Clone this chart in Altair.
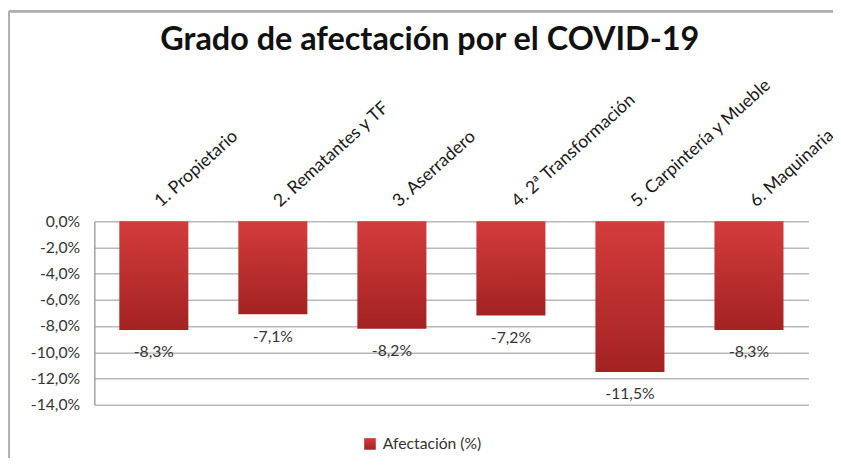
import altair as alt
import pandas as pd

categories = ["1. Propietario", "2. Rematantes y TF", "3. Aserradero",
              "4. 2ª Transformación", "5. Carpintería y Mueble", "6. Maquinaria"]
values = [-8.3, -7.1, -8.2, -7.2, -11.5, -8.3]
series_name = "Afectación (%)"
y_ticks = [0, -2, -4, -6, -8, -10, -12, -14]

df = pd.DataFrame({"cat": categories, "val": values, "serie": series_name})
df["lab"] = [f"{v:.1f}%".replace(".", ",") for v in values]

FONT = "Lato"

base = alt.Chart(df)

xaxis = alt.Axis(orient="top", labelAngle=-42, labelAlign="left",
                 labelBaseline="middle", labelFontSize=18, labelFont=FONT,
                 labelColor="#1a1a1a", ticks=False, domain=False,
                 labelPadding=18, labelLimit=400, labelOffset=4)
yaxis = alt.Axis(values=y_ticks,
                 labelExpr="replace(replace(format(datum.value, '.1f'), '.', ','), '\u2212', '-') + '%'",
                 labelFontSize=16, labelFont=FONT, labelColor="#333333",
                 labelOverlap=False, labelFlush=False, labelBound=False,
                 grid=True, gridColor="#b8b8b8", gridWidth=1.5,
                 domain=True, domainColor="#a0a0a0", domainWidth=1.5,
                 ticks=False, labelPadding=15)

xenc = alt.X("cat:N", sort=categories, title=None, axis=xaxis)
yenc = alt.Y("val:Q", title=None, scale=alt.Scale(domain=[-14, 0], nice=False), axis=yaxis)

bars = base.mark_bar(
    color=alt.Gradient(gradient="linear",
                       stops=[alt.GradientStop(color="#d43c3c", offset=0),
                              alt.GradientStop(color="#a32222", offset=1)],
                       x1=0, x2=0, y1=0, y2=1)
).encode(
    x=xenc,
    y=yenc,
    opacity=alt.Opacity("serie:N", scale=alt.Scale(range=[1]),
                        legend=alt.Legend(title=None, orient="none", legendX=273, legendY=219,
                                          symbolType="square", symbolSize=140,
                                          symbolFillColor="#b52c2c", symbolStrokeWidth=0,
                                          labelFontSize=16, labelFont=FONT, labelColor="#333333",
                                          labelOffset=5))
)

labels = base.mark_text(baseline="middle", align="center", dy=23,
                        font=FONT, fontSize=16, color="#333333").encode(
    x=xenc,
    y=yenc,
    text="lab:N"
)

border = alt.Chart(df).mark_rule(color="#b0b0b0", strokeWidth=2).encode(
    x=alt.value(-87), y=alt.value(-214), y2=alt.value(260)
)
border_top = alt.Chart(df).mark_rule(color="#b0b0b0", strokeWidth=2).encode(
    x=alt.value(-87), x2=alt.value(760), y=alt.value(-214)
)

chart = alt.layer(border, border_top, bars, labels).properties(
    width=728, height=187,
    title=alt.TitleParams("Grado de afectación por el COVID-19", fontSize=33, font=FONT,
                          fontWeight="bold", color="#111111", anchor="middle", dx=-22,
                          offset=10, dy=57),
    autosize=alt.AutoSizeParams(type="none"),
    padding={"left": 88, "top": 213, "right": 25, "bottom": 50}
).configure_view(stroke=None).configure_scale(bandPaddingInner=0.42, bandPaddingOuter=0.21)

chart.save("out.html", embed_options={"renderer": "svg", "actions": False})
